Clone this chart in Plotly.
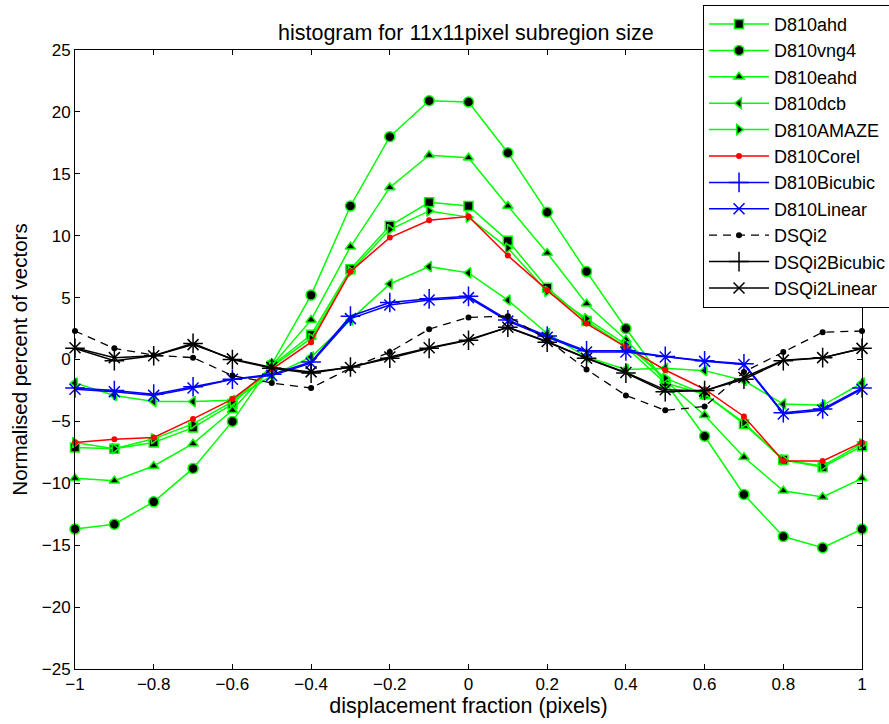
import plotly.graph_objects as go

# -------------------------------------------------
# DATA
# -------------------------------------------------
x_vals = [-1.0, -0.9, -0.8, -0.7, -0.6, -0.5, -0.4, -0.3, -0.2, -0.1, 0.0,
          0.1, 0.2, 0.3, 0.4, 0.5, 0.6, 0.7, 0.8, 0.9, 1.0]

d810_ahd = [-7.1, -7.2, -6.7, -5.5, -3.6, -0.5, 2.0, 7.3, 10.8, 12.7, 12.4,
            9.6, 5.8, 3.1, 1.0, -1.9, -2.8, -5.2, -8.1, -8.7, -7.0]
d810_vng4 = [-13.7, -13.3, -11.5, -8.8, -5.0, -0.4, 5.2, 12.4, 18.0, 20.9, 20.8,
             16.7, 11.9, 7.1, 2.5, -1.8, -6.2, -10.9, -14.3, -15.2, -13.7]
d810_eahd = [-9.6, -9.8, -8.6, -6.8, -4.1, -0.5, 3.2, 9.1, 13.9, 16.5, 16.3,
             12.4, 8.6, 4.5, 1.6, -1.7, -4.5, -7.9, -10.6, -11.1, -9.6]
d810_dcb = [-1.9, -2.9, -3.4, -3.4, -3.3, -1.3, 0.2, 3.2, 6.1, 7.5, 7.0,
            4.8, 2.1, 0.2, -0.8, -0.7, -0.9, -1.7, -3.6, -3.7, -1.9]
d810_amaze = [-6.7, -7.2, -6.4, -5.2, -3.4, -0.6, 1.7, 7.1, 10.5, 12.0, 11.5,
              9.0, 5.5, 3.3, 1.2, -1.5, -2.8, -5.1, -8.1, -8.6, -6.8]
d810_corel = [-6.7, -6.45, -6.3, -4.8, -3.2, -0.8, 1.4, 7.1, 9.85, 11.25, 11.55,
              8.4, 5.6, 2.9, 1.0, -0.85, -2.4, -4.6, -8.2, -8.2, -6.7]
d810_bicubic = [-2.3, -2.5, -2.8, -2.2, -1.6, -1.2, -0.2, 3.5, 4.6, 4.9, 5.1,
                3.2, 1.9, 0.7, 0.7, 0.25, -0.1, -0.35, -4.3, -4.0, -2.3]
d810_linear = [-2.4, -2.6, -2.9, -2.3, -1.6, -1.3, -0.3, 3.3, 4.4, 4.8, 5.0,
               3.1, 1.8, 0.6, 0.6, 0.2, -0.15, -0.4, -4.4, -4.1, -2.4]
dsqi2 = [2.3, 0.9, 0.35, 0.15, -1.3, -1.9, -2.3, -0.7, 0.6, 2.45, 3.4,
         3.5, 1.6, -0.8, -2.9, -4.1, -3.8, -1.0, 0.6, 2.2, 2.3]
dsqi2_bicubic = [0.9, -0.1, 0.3, 1.3, 0.0, -0.7, -1.1, -0.6, 0.1, 0.9, 1.55,
                 2.6, 1.4, 0.1, -1.1, -2.6, -2.5, -1.6, -0.1, 0.15, 0.9]
dsqi2_linear = [0.95, 0.15, 0.3, 1.2, 0.05, -0.65, -1.0, -0.65, 0.2, 0.95, 1.6,
                2.6, 1.45, 0.1, -1.05, -2.45, -2.55, -1.45, -0.05, 0.15, 0.9]

GREEN = "#00ff00"
BLUE = "#0000ff"
RED = "#ff0000"

fig = go.Figure()


def add_green(name, y, symbol, size=9):
    fig.add_trace(go.Scatter(
        x=x_vals, y=y, name=name, mode="lines+markers", cliponaxis=False,
        line=dict(color=GREEN, width=1.5),
        marker=dict(symbol=symbol, size=size, color="black",
                    line=dict(color=GREEN, width=1.5))
    ))


add_green("D810ahd", d810_ahd, "square", 9)
add_green("D810vng4", d810_vng4, "circle", 10)
add_green("D810eahd", d810_eahd, "triangle-up", 9)
add_green("D810dcb", d810_dcb, "triangle-left", 9)
add_green("D810AMAZE", d810_amaze, "triangle-right", 9)

fig.add_trace(go.Scatter(
    x=x_vals, y=d810_corel, name="D810Corel", mode="lines+markers",
    cliponaxis=False,
    line=dict(color=RED, width=1.5),
    marker=dict(symbol="circle", size=6, color=RED)
))
fig.add_trace(go.Scatter(
    x=x_vals, y=d810_bicubic, name="D810Bicubic", mode="lines+markers",
    cliponaxis=False,
    line=dict(color=BLUE, width=1.5),
    marker=dict(symbol="cross-thin", size=14, color=BLUE,
                line=dict(color=BLUE, width=1.5))
))
fig.add_trace(go.Scatter(
    x=x_vals, y=d810_linear, name="D810Linear", mode="lines+markers",
    cliponaxis=False,
    line=dict(color=BLUE, width=1.5),
    marker=dict(symbol="x-thin", size=11, color=BLUE,
                line=dict(color=BLUE, width=1.5))
))
fig.add_trace(go.Scatter(
    x=x_vals, y=dsqi2, name="DSQi2", mode="lines+markers",
    cliponaxis=False,
    line=dict(color="black", width=1.3, dash="8px,6px"),
    marker=dict(symbol="circle", size=6, color="black")
))
fig.add_trace(go.Scatter(
    x=x_vals, y=dsqi2_bicubic, name="DSQi2Bicubic", mode="lines+markers",
    cliponaxis=False,
    line=dict(color="black", width=1.5),
    marker=dict(symbol="cross-thin", size=14, color="black",
                line=dict(color="black", width=1.5))
))
fig.add_trace(go.Scatter(
    x=x_vals, y=dsqi2_linear, name="DSQi2Linear", mode="lines+markers",
    cliponaxis=False,
    line=dict(color="black", width=1.5),
    marker=dict(symbol="x-thin", size=11, color="black",
                line=dict(color="black", width=1.5))
))

axis_style = dict(
    showline=True, mirror="ticks", linecolor="black", linewidth=1,
    ticks="inside", ticklen=5, tickcolor="black",
    showgrid=False, zeroline=False,
    tickfont=dict(size=17, color="black"),
)

fig.update_layout(
    width=889, height=724,
    paper_bgcolor="white", plot_bgcolor="white",
    font=dict(family="Liberation Sans, Arial, sans-serif", color="black"),
    margin=dict(l=75, r=27, t=50, b=55, autoexpand=False),
    title=dict(text="histogram for 11x11pixel subregion size",
               x=0.524, xanchor="center", y=0.955, yanchor="middle",
               font=dict(size=21.5)),
    xaxis=dict(range=[-1, 1], dtick=0.2, tick0=-1,
               title=dict(text="displacement fraction (pixels)",
                          font=dict(size=21.5), standoff=0),
               **axis_style),
    yaxis=dict(range=[-25, 25], dtick=5,
               title=dict(text="Normalised percent of vectors",
                          font=dict(size=20.5), standoff=8),
               **axis_style),
    legend=dict(x=0.798, xanchor="left", y=1.073, yanchor="top",
                bgcolor="white", bordercolor="black", borderwidth=1,
                font=dict(size=18), tracegroupgap=0, itemwidth=60),
    showlegend=True,
)

# page body has a default 8px margin; drop it so the figure sits at 0,0
fig.write_html("out.html", config={"displayModeBar": False},
               post_script="document.body.style.margin='0';")
